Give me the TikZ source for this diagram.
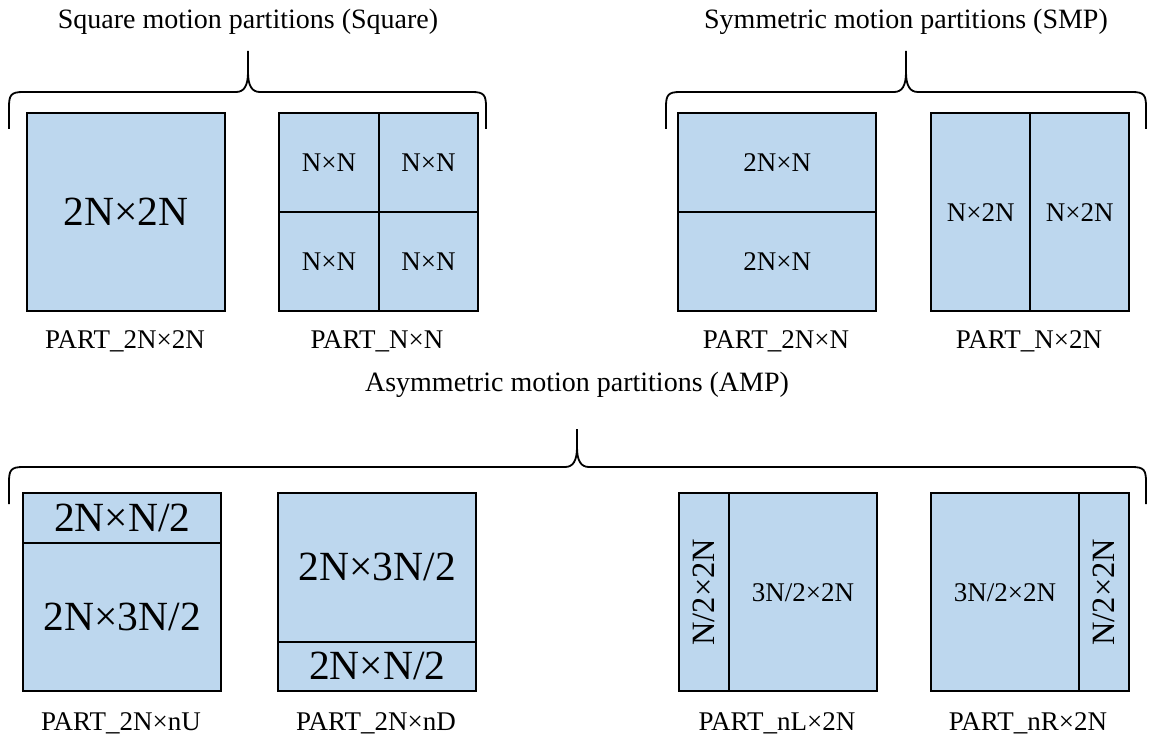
\documentclass[tikz,border=0pt]{standalone}
\usepackage{fontspec}
\setmainfont{Liberation Serif}
\definecolor{partblue}{HTML}{BDD7EE}
\tikzset{
  part/.style={draw=black, line width=2.4pt, fill=partblue, inner sep=0pt,
    anchor=north west, align=center},
  brace/.style={draw=black, line width=1.8pt, line cap=butt, line join=round},
  title/.style={anchor=base, inner sep=0pt, font=\fontsize{28}{32}\selectfont},
  caption/.style={anchor=base, inner sep=0pt, font=\fontsize{27}{32}\selectfont},
  big/.style={font=\fontsize{41.5}{46}\selectfont},
  small/.style={font=\fontsize{27}{32}\selectfont},
  side/.style={font=\fontsize{32.5}{36}\selectfont},
}
\newcommand\partbrace[5]{% left x, right x, tip x, line y, tip top y
  \draw[brace] (#1,#4+37) -- (#1,#4+15) .. controls (#1,#4+3) and (#1+2,#4) .. (#1+14,#4)
    -- (#3-12,#4) .. controls (#3-4,#4) and (#3,#4-6) .. (#3,#4-20) -- (#3,#5);
  \draw[brace] (#3,#4-20) .. controls (#3,#4-6) and (#3+4,#4) .. (#3+12,#4)
    -- (#2-14,#4) .. controls (#2-2,#4) and (#2,#4+3) .. (#2,#4+15) -- (#2,#4+37);
}
\begin{document}
\begin{tikzpicture}[x=1pt,y=-1pt]
\useasboundingbox (0,0) rectangle (1154,738);

% ---------- group titles ----------
\node[title] (tsq)  at (248,29)  {Square motion partitions (Square)};
\node[title] (tsmp) at (906,29)  {Symmetric motion partitions (SMP)};
\node[title] (tamp) at (577,391) {Asymmetric motion partitions (AMP)};

% ---------- braces ----------
\partbrace{9}{486}{248}{92}{51}
\partbrace{666}{1146}{906}{92}{51}
\partbrace{9}{1146}{577}{467}{429}

% ---------- square partitions ----------
\node[part, minimum width=198pt, minimum height=198pt, big] (sq) at (26,112) {2N×2N};
\node[part, minimum width=99.5pt, minimum height=99pt, small] (nn1) at (278,112) {N×N};
\node[part, minimum width=99.5pt, minimum height=99pt, small] (nn2) at (377.5,112) {N×N};
\node[part, minimum width=99.5pt, minimum height=99pt, small] (nn3) at (278,211) {N×N};
\node[part, minimum width=99.5pt, minimum height=99pt, small] (nn4) at (377.5,211) {N×N};

% ---------- symmetric partitions ----------
\node[part, minimum width=198pt, minimum height=99pt, small] (h1) at (677,112) {2N×N};
\node[part, minimum width=198pt, minimum height=99pt, small] (h2) at (677,211) {2N×N};
\node[part, minimum width=99pt, minimum height=198pt, small] (v1) at (930,112) {N×2N};
\node[part, minimum width=99pt, minimum height=198pt, small] (v2) at (1029,112) {N×2N};

% ---------- asymmetric partitions ----------
\node[part, minimum width=198pt, minimum height=49.5pt, big] (u1) at (22,492) {2N×N/2};
\node[part, minimum width=198pt, minimum height=148.5pt, big] (u2) at (22,541.5) {2N×3N/2};
\node[part, minimum width=198pt, minimum height=148.5pt, big] (d1) at (277,492) {2N×3N/2};
\node[part, minimum width=198pt, minimum height=49.5pt, big] (d2) at (277,640.5) {2N×N/2};
\node[part, minimum width=49.5pt, minimum height=198pt] (l1) at (678,492) {};
\node[side, rotate=90] (l1t) at (l1.center) {N/2×2N};
\node[part, minimum width=148.5pt, minimum height=198pt, small] (l2) at (727.5,492) {3N/2×2N};
\node[part, minimum width=148.5pt, minimum height=198pt, small] (r1) at (929.5,492) {3N/2×2N};
\node[part, minimum width=49.5pt, minimum height=198pt] (r2) at (1078,492) {};
\node[side, rotate=90] (r2t) at (r2.center) {N/2×2N};

% ---------- captions ----------
\node[caption] (c1) at (125,348) {PART\_2N×2N};
\node[caption] (c2) at (377,348) {PART\_N×N};
\node[caption] (c3) at (776,348) {PART\_2N×N};
\node[caption] (c4) at (1029,348) {PART\_N×2N};
\node[caption] (c5) at (121,730) {PART\_2N×nU};
\node[caption] (c6) at (376,730) {PART\_2N×nD};
\node[caption] (c7) at (777,730) {PART\_nL×2N};
\node[caption] (c8) at (1028,730) {PART\_nR×2N};
\end{tikzpicture}
\end{document}
